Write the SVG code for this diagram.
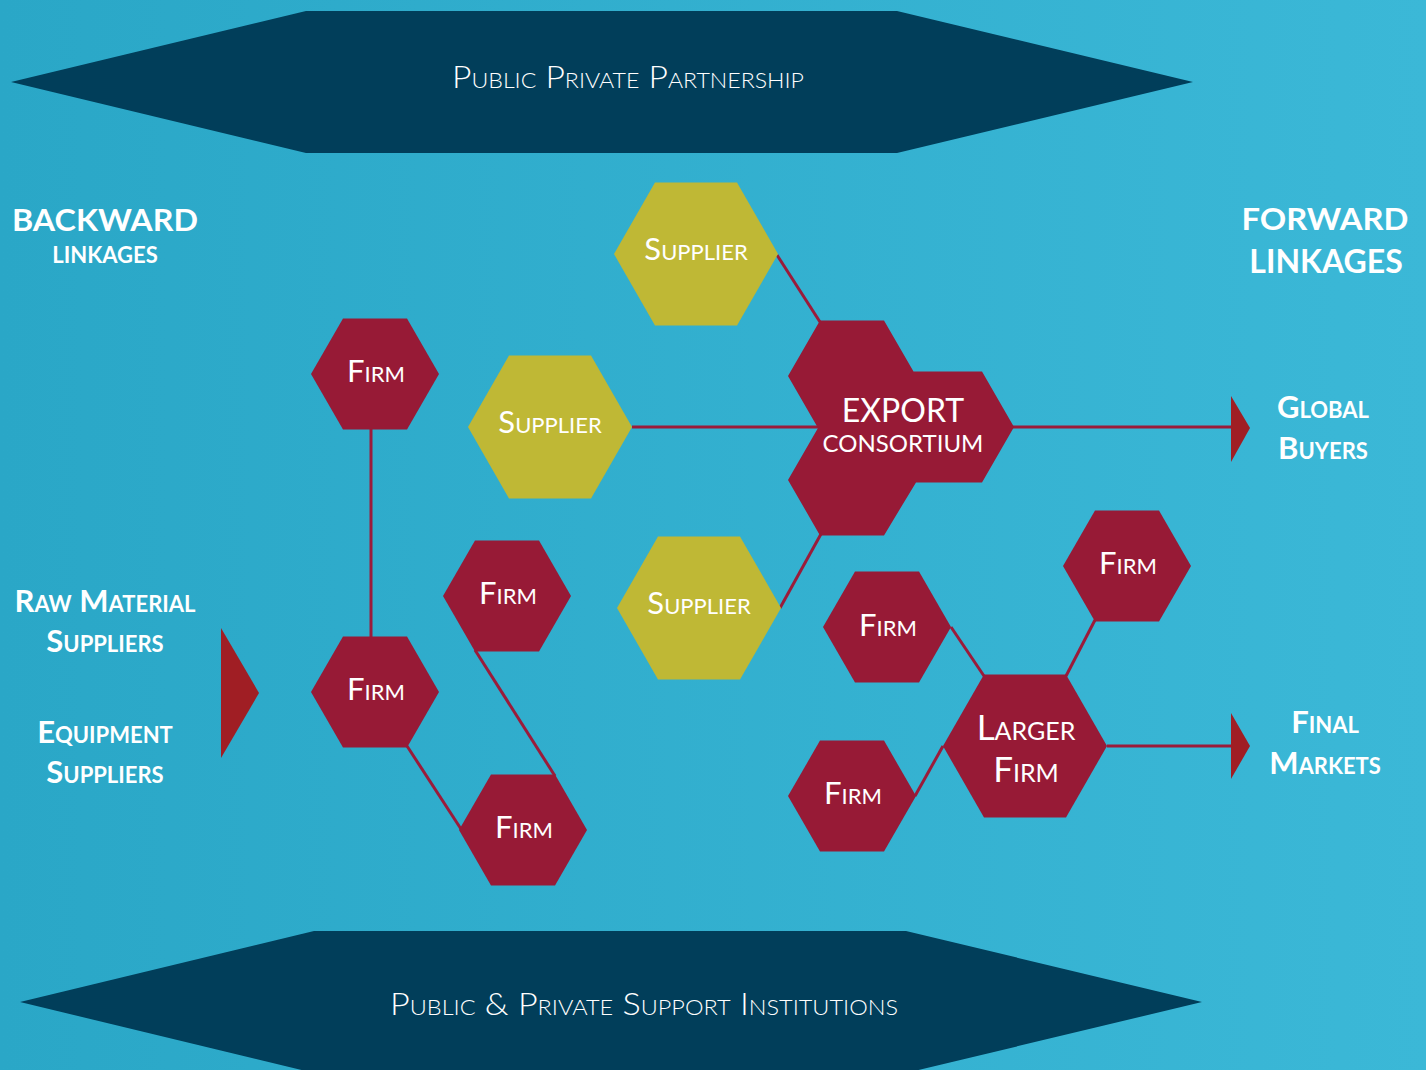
<svg xmlns="http://www.w3.org/2000/svg" xmlns:xlink="http://www.w3.org/1999/xlink" width="1426" height="1070" viewBox="0 0 1426 1070">
<defs>
<linearGradient id="bg" x1="0" y1="0" x2="1" y2="0">
<stop offset="0" stop-color="#2aa7c7"/>
<stop offset="1" stop-color="#3bb8d7"/>
</linearGradient>
<polygon id="hexS" points="-64,0 -32,-55.4 32,-55.4 64,0 32,55.4 -32,55.4"/>
<polygon id="hexL" points="-82,0 -41,-71.5 41,-71.5 82,0 41,71.5 -41,71.5"/>
</defs>
<style>
.firm{fill:#971a36}
.sup{fill:#bfb835}
.ban{fill:#013e5a}
.arr{fill:#a01e24}
.con line{stroke:#9b1b3a;stroke-width:3}
text{font-family:Lato,"Open Sans","Liberation Sans",sans-serif;fill:#ffffff;text-anchor:middle}
.sc{font-variant:small-caps}
.hx{font-size:31px;font-variant:small-caps}
.side{font-size:31px;font-weight:bold;font-variant:small-caps}
.ban-t{font-size:32px;font-weight:300;font-variant:small-caps}
</style>
<rect width="1426" height="1070" fill="url(#bg)"/>

<g id="banner-top">
<polygon class="ban" points="11,82 306,11 897,11 1193,82 897,153 306,153"/>
<text class="ban-t" x="628" y="88" textLength="352" lengthAdjust="spacingAndGlyphs">Public Private Partnership</text>
</g>
<g id="banner-bottom">
<polygon class="ban" points="20,1002 314,931 906,931 1202,1002 906,1073 314,1073"/>
<text class="ban-t" x="644" y="1015" textLength="508" lengthAdjust="spacingAndGlyphs">Public &amp; Private Support Institutions</text>
</g>

<g id="backward-linkages">
<text x="105" y="231" font-size="31" font-weight="bold" textLength="186" lengthAdjust="spacingAndGlyphs">BACKWARD</text>
<text x="105" y="263" font-size="22" font-weight="bold">LINKAGES</text>
</g>
<g id="forward-linkages">
<text x="1325" y="230" font-size="31" font-weight="bold" textLength="167" lengthAdjust="spacingAndGlyphs">FORWARD</text>
<text x="1326" y="273" font-size="32" font-weight="bold">LINKAGES</text>
</g>
<g id="raw-material">
<text class="side" x="105" y="612">Raw Material</text>
<text class="side" x="105" y="652">Suppliers</text>
</g>
<g id="equipment">
<text class="side" x="105" y="743">Equipment</text>
<text class="side" x="105" y="783">Suppliers</text>
</g>
<g id="global-buyers">
<text class="side" x="1323" y="418">Global</text>
<text class="side" x="1323" y="459">Buyers</text>
</g>
<g id="final-markets">
<text class="side" x="1325" y="733">Final</text>
<text class="side" x="1325" y="774">Markets</text>
</g>

<g id="connectors" class="con">
<line x1="371" y1="429" x2="371" y2="638"/>
<line x1="407" y1="746" x2="461" y2="829"/>
<line x1="475" y1="650" x2="555" y2="776"/>
<line x1="777" y1="255" x2="820" y2="322"/>
<line x1="632" y1="427" x2="818" y2="427"/>
<line x1="780" y1="608" x2="821" y2="534"/>
<line x1="1013" y1="427" x2="1234" y2="427"/>
<line x1="951" y1="627" x2="984" y2="676"/>
<line x1="1095" y1="620" x2="1066" y2="676"/>
<line x1="915" y1="796" x2="943" y2="746"/>
<line x1="1107" y1="746" x2="1234" y2="746"/>
</g>

<g id="arrow-left"><polygon class="arr" points="221,628 259,693 221,758"/></g>
<g id="arrow-global"><polygon class="arr" points="1231,396 1250,428 1231,462"/></g>
<g id="arrow-final"><polygon class="arr" points="1231,713 1250,746 1231,779"/></g>

<g id="firm-1"><use xlink:href="#hexS" class="firm" x="375" y="374"/><text class="hx" x="376" y="382">Firm</text></g>
<g id="firm-2"><use xlink:href="#hexS" class="firm" x="375" y="692"/><text class="hx" x="376" y="700">Firm</text></g>
<g id="firm-3"><use xlink:href="#hexS" class="firm" x="507" y="596"/><text class="hx" x="508" y="604">Firm</text></g>
<g id="firm-4"><use xlink:href="#hexS" class="firm" x="523" y="830"/><text class="hx" x="524" y="838">Firm</text></g>

<g id="supplier-1"><use xlink:href="#hexL" class="sup" x="696" y="254"/><text class="hx" x="696" y="260">Supplier</text></g>
<g id="supplier-2"><use xlink:href="#hexL" class="sup" x="550" y="427"/><text class="hx" x="550" y="433">Supplier</text></g>
<g id="supplier-3"><use xlink:href="#hexL" class="sup" x="699" y="608"/><text class="hx" x="699" y="614">Supplier</text></g>

<g id="export-consortium">
<polygon class="firm" points="820,320.6 884,320.6 913.5,371.6 982,371.6 1014,427 982,482.4 916,482.4 884,535.4 820,535.4 788,480 818,428 788,376"/>
<text x="903" y="422" font-size="32">EXPORT</text>
<text x="903" y="452" font-size="24">CONSORTIUM</text>
</g>

<g id="firm-5"><use xlink:href="#hexS" class="firm" x="887" y="627"/><text class="hx" x="888" y="636">Firm</text></g>
<g id="firm-6"><use xlink:href="#hexS" class="firm" x="1127" y="566"/><text class="hx" x="1128" y="574">Firm</text></g>
<g id="firm-7"><use xlink:href="#hexS" class="firm" x="852" y="796"/><text class="hx" x="853" y="804">Firm</text></g>
<g id="larger-firm"><use xlink:href="#hexL" class="firm" x="1025" y="746"/>
<text x="1026" y="740" font-size="35" class="sc">Larger</text>
<text x="1026" y="782" font-size="35" class="sc">Firm</text>
</g>
</svg>
